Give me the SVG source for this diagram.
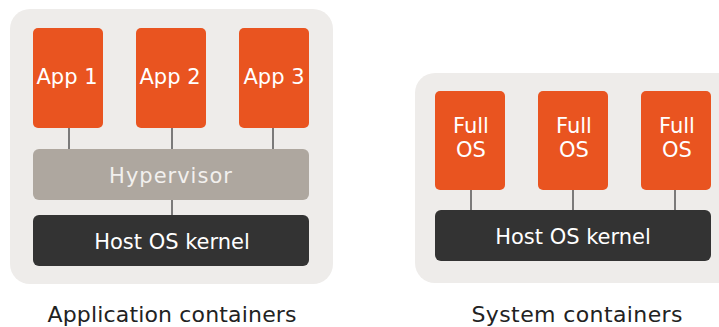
<svg xmlns="http://www.w3.org/2000/svg" width="719" height="327" viewBox="0 0 719 327">
<style>
.panel{fill:#eeecea}
.app{fill:#e95420}
.hyp{fill:#aea79f}
.kern{fill:#333333}
.t{font-family:"DejaVu Sans","Liberation Sans",sans-serif;font-size:21px;text-anchor:middle}
.w{fill:#ffffff}
.hw{fill:#f2f0ee}
.cap{fill:#222222;font-size:22px}
.conn line{stroke:#555555;stroke-width:1.5}
</style>
<rect width="719" height="327" fill="#ffffff"/>
<g id="panel-app">
<rect class="panel" x="10" y="9" width="323" height="275" rx="20"/>
</g>
<g id="panel-sys">
<rect class="panel" x="415" y="73" width="324" height="210" rx="20"/>
</g>
<g class="conn" id="connectors">
<line x1="69" y1="128" x2="69" y2="149"/>
<line x1="172" y1="128" x2="172" y2="149"/>
<line x1="273" y1="128" x2="273" y2="149"/>
<line x1="172" y1="200" x2="172" y2="215"/>
<line x1="471" y1="190" x2="471" y2="210"/>
<line x1="573" y1="190" x2="573" y2="210"/>
<line x1="675" y1="190" x2="675" y2="210"/>
</g>
<g id="app1"><rect class="app" x="33" y="28" width="70" height="100" rx="5"/><text class="t w" x="67" y="84">App 1</text></g>
<g id="app2"><rect class="app" x="136" y="28" width="70" height="100" rx="5"/><text class="t w" x="170" y="84">App 2</text></g>
<g id="app3"><rect class="app" x="239" y="28" width="70" height="100" rx="5"/><text class="t w" x="274" y="84">App 3</text></g>
<g id="hypervisor"><rect class="hyp" x="33" y="149" width="276" height="51" rx="6"/><text class="t hw" x="171" y="183" letter-spacing="1">Hypervisor</text></g>
<g id="kernel-app"><rect class="kern" x="33" y="215" width="276" height="51" rx="6"/><text class="t w" x="172" y="249">Host OS kernel</text></g>
<g id="os1"><rect class="app" x="435" y="91" width="70" height="99" rx="5"/><text class="t w" x="471" y="133">Full</text><text class="t w" x="471" y="157">OS</text></g>
<g id="os2"><rect class="app" x="538" y="91" width="70" height="99" rx="5"/><text class="t w" x="574" y="133">Full</text><text class="t w" x="574" y="157">OS</text></g>
<g id="os3"><rect class="app" x="641" y="91" width="70" height="99" rx="5"/><text class="t w" x="677" y="133">Full</text><text class="t w" x="677" y="157">OS</text></g>
<g id="kernel-sys"><rect class="kern" x="435" y="210" width="276" height="51" rx="6"/><text class="t w" x="573" y="244">Host OS kernel</text></g>
<g id="captions">
<text class="t cap" x="172" y="322" textLength="249" lengthAdjust="spacing">Application containers</text>
<text class="t cap" x="577" y="322" textLength="211" lengthAdjust="spacing">System containers</text>
</g>
</svg>
